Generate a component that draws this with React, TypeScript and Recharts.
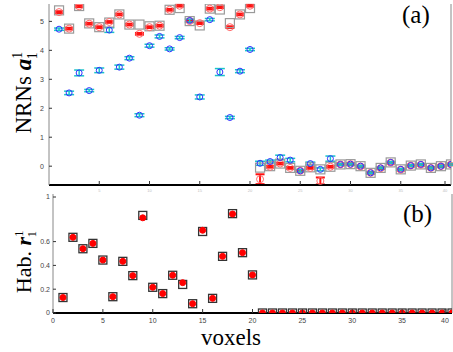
import React from "react";
import { ScatterChart, Scatter, XAxis, YAxis, ErrorBar, Label } from "recharts";

// voxel index 1..40
const voxels = [
  1, 2, 3, 4, 5, 6, 7, 8, 9, 10, 11, 12, 13, 14, 15, 16, 17, 18, 19, 20,
  21, 22, 23, 24, 25, 26, 27, 28, 29, 30, 31, 32, 33, 34, 35, 36, 37, 38, 39, 40,
];

// (a) NRNs a_1^1 : ground truth (grey squares)
const nrnTrue = [
  5.38, 4.75, 5.53, 4.93, 4.8, 4.96, 5.24, 4.89, 4.89, 4.83,
  4.85, 5.4, 5.46, 5.01, 4.86, 5.44, 5.41, 4.94, 5.24, 5.46,
  -0.05, 0.0, 0.09, -0.06, -0.16, -0.04, -0.11, -0.02, 0.06, 0.07,
  0.0, -0.23, -0.06, 0.13, -0.11, 0.02, 0.06, -0.06, 0.0, 0.06,
];
// red estimate + error
const nrnFit = [
  5.32, 4.75, 5.52, 4.92, 4.8, 4.98, 5.24, 4.89, 4.57, 4.8,
  4.85, 5.4, 5.54, 5.01, 4.94, 5.44, 5.49, 4.8, 5.24, 5.54,
  -0.45, -0.02, 0.09, -0.06, -0.16, -0.06, -0.51, -0.02, 0.06, 0.07,
  -0.01, -0.23, -0.07, 0.12, -0.12, 0.02, 0.05, -0.06, 0.0, 0.06,
];
const nrnFitErr = [
  0.03, 0.03, 0.03, 0.03, 0.03, 0.03, 0.03, 0.03, 0.03, 0.03,
  0.03, 0.03, 0.03, 0.03, 0.03, 0.03, 0.03, 0.03, 0.03, 0.03,
  0.17, 0.03, 0.03, 0.03, 0.03, 0.03, 0.12, 0.03, 0.03, 0.03,
  0.03, 0.03, 0.03, 0.03, 0.03, 0.03, 0.03, 0.03, 0.03, 0.03,
];
// blue estimate + error (cyan)
const nrnAlt = [
  4.73, 2.53, 3.22, 2.61, 3.31, 4.7, 3.42, 3.73, 1.76, 4.16,
  4.48, 4.05, 4.44, 5.03, 2.39, 5.06, 3.25, 1.68, 3.28, 4.03,
  0.1, 0.16, 0.3, 0.21, -0.16, 0.09, -0.11, 0.26, 0.06, 0.07,
  0.0, -0.23, -0.06, 0.13, -0.11, 0.02, 0.06, -0.06, 0.0, 0.06,
];
const nrnAltErr = [
  0.04, 0.06, 0.1, 0.04, 0.08, 0.08, 0.07, 0.05, 0.05, 0.05,
  0.05, 0.04, 0.04, 0.05, 0.07, 0.04, 0.12, 0.04, 0.05, 0.04,
  0.07, 0.05, 0.08, 0.06, 0.04, 0.05, 0.05, 0.09, 0.03, 0.03,
  0.03, 0.03, 0.03, 0.03, 0.03, 0.03, 0.03, 0.03, 0.03, 0.03,
];

// (b) Hab. r_1^1
const habTrue = [
  0.13, 0.636, 0.54, 0.585, 0.445, 0.137, 0.434, 0.314, 0.82, 0.216,
  0.163, 0.317, 0.24, 0.078, 0.685, 0.123, 0.476, 0.835, 0.507, 0.32,
  0, 0, 0, 0, 0, 0, 0, 0, 0, 0, 0, 0, 0, 0, 0, 0, 0, 0, 0, 0,
];
const habFit = [
  0.13, 0.636, 0.54, 0.585, 0.445, 0.137, 0.434, 0.314, 0.8, 0.216,
  0.163, 0.317, 0.255, 0.078, 0.695, 0.123, 0.476, 0.832, 0.507, 0.32,
  0, 0, 0, 0, 0, 0, 0, 0, 0, 0, 0, 0, 0, 0, 0, 0, 0, 0, 0, 0,
];

const xTicks = [0, 5, 10, 15, 20, 25, 30, 35, 40];
const xTicksTop = [5, 10, 15, 20, 25, 30, 35, 40];
const nrnTicks = [0, 1, 2, 3, 4, 5];
const habTicks = [0, 0.2, 0.4, 0.6, 0.8, 1];

const rows = (vals: number[], errs?: number[]) =>
  voxels.map((v, i) => ({ x: v, y: vals[i], err: errs ? errs[i] : 0 }));

const SERIF = "'Liberation Serif', 'DejaVu Serif', serif";
const SANS = "'Liberation Sans', 'DejaVu Sans', sans-serif";
const BORDER = "#888";

// tick renderers: labels outside, short tick marks pointing into the plot
const tickBottom = (m: number, fs: number, color: string) => (p: any) => (
  <g>
    <line x1={p.x} x2={p.x} y1={p.y - m} y2={p.y - m - 4} stroke="#333" />
    <text x={p.x} y={p.y} dy="0.71em" textAnchor="middle" fontSize={fs} fill={color} fontFamily={SANS}>
      {p.payload.value}
    </text>
  </g>
);
const tickTop = (m: number) => (p: any) => (
  <line x1={p.x} x2={p.x} y1={p.y + m} y2={p.y + m + 4} stroke="#333" />
);
const tickLeft = (m: number, fs: number, color: string) => (p: any) => (
  <g>
    <line x1={p.x + m} x2={p.x + m + 3} y1={p.y} y2={p.y} stroke="#333" />
    <text x={p.x} y={p.y} dy="0.35em" textAnchor="end" fontSize={fs} fill={color} fontFamily={SANS}>
      {p.payload.value}
    </text>
  </g>
);
const tickRight = (m: number) => (p: any) => (
  <line x1={p.x - m} x2={p.x - m - 4} y1={p.y} y2={p.y} stroke="#333" />
);

const square = (size: number, stroke: string, sw: number) => (p: any) => (
  <rect x={p.cx - size / 2} y={p.cy - size / 2} width={size} height={size} fill="none" stroke={stroke} strokeWidth={sw} />
);
const circle = (r: number, stroke: string, fill: string) => (p: any) => (
  <circle cx={p.cx} cy={p.cy} r={r} fill={fill} stroke={stroke} strokeWidth={1} />
);

function AxisTitle({ cx, cy, main, sym, size }: { cx: number; cy: number; main: string; sym: string; size: number }) {
  return (
    <text x={cx} y={cy} transform={`rotate(-90 ${cx} ${cy})`} textAnchor="middle" fontFamily={SERIF} fontSize={size} fill="#000">
      <tspan>{main}</tspan>
      <tspan fontWeight="bold" fontStyle="italic">{sym}</tspan>
      <tspan fontSize={size * 0.6} dy={-size * 0.38}>1</tspan>
      <tspan fontSize={size * 0.6} dx={-size * 0.3} dy={size * 0.62}>1</tspan>
    </text>
  );
}

export default function App() {
  return (
    <div style={{ position: "absolute", left: 0, top: 0, width: 453, height: 352, background: "#fff", overflow: "hidden" }}>
      {/* (a) */}
      <div style={{ position: "absolute", left: 0, top: 0 }}>
        <ScatterChart width={453} height={192} margin={{ top: 4, right: 0, bottom: 0, left: 0 }}>
          <XAxis
            type="number" dataKey="x" domain={[0, 40]} ticks={xTicksTop} allowDataOverflow
            height={7} tickSize={0} tickMargin={4} axisLine={{ stroke: "#000", strokeWidth: 2 }}
            tick={tickBottom(4, 4, "#bbb")}
          />
          <XAxis
            xAxisId="top" orientation="top" type="number" domain={[0, 40]} ticks={xTicksTop}
            height={0} tickSize={0} tickMargin={0} axisLine={{ stroke: BORDER }} tick={tickTop(0)}
          />
          <YAxis
            type="number" dataKey="y" domain={[-0.65, 5.6]} ticks={nrnTicks} allowDataOverflow
            width={49} tickSize={0} tickMargin={5} axisLine={{ stroke: BORDER }} tick={tickLeft(5, 7, "#444")}
          >
            <Label content={() => <AxisTitle cx={31} cy={93} main="NRNs " sym="a" size={23} />} />
          </YAxis>
          <YAxis
            yAxisId="right" orientation="right" type="number" domain={[-0.65, 5.6]} ticks={nrnTicks}
            width={2} tickSize={0} tickMargin={0} axisLine={{ stroke: BORDER }} tick={tickRight(0)}
          />
          <Scatter data={rows(nrnTrue)} shape={square(9, "#9a9a9a", 1.2)} isAnimationActive={false} />
          <Scatter data={rows(nrnFit, nrnFitErr)} shape={circle(3.5, "#ff6a6a", "none")} isAnimationActive={false}>
            <ErrorBar dataKey="err" direction="y" width={4.5} stroke="#ff1010" strokeWidth={2} isAnimationActive={false} />
          </Scatter>
          <Scatter data={rows(nrnAlt, nrnAltErr)} shape={circle(3, "#3030ff", "none")} isAnimationActive={false}>
            <ErrorBar dataKey="err" direction="y" width={5} stroke="#19c4c8" strokeWidth={1.5} isAnimationActive={false} />
          </Scatter>
        </ScatterChart>
      </div>

      {/* (b) */}
      <div style={{ position: "absolute", left: 0, top: 188 }}>
        <ScatterChart width={453} height={164} margin={{ top: 6, right: 0, bottom: 0, left: 0 }}>
          <XAxis
            type="number" dataKey="x" domain={[0, 40]} ticks={xTicks} allowDataOverflow
            height={39} tickSize={0} tickMargin={5} axisLine={{ stroke: "#000", strokeWidth: 2 }}
            tick={tickBottom(5, 7, "#444")}
          >
            <Label
              content={() => (
                <text x={231} y={157} textAnchor="middle" fontFamily={SERIF} fontSize={23} fill="#000">
                  voxels
                </text>
              )}
            />
          </XAxis>
          <XAxis
            xAxisId="top" orientation="top" type="number" domain={[0, 40]} ticks={xTicks}
            height={0} tickSize={0} tickMargin={0} axisLine={{ stroke: BORDER }} tick={tickTop(0)}
          />
          <YAxis
            type="number" dataKey="y" domain={[0, 1]} ticks={habTicks} allowDataOverflow
            width={53} tickSize={0} tickMargin={3} axisLine={{ stroke: BORDER }} tick={tickLeft(3, 7, "#444")}
          >
            <Label content={() => <AxisTitle cx={31} cy={74} main="Hab. " sym="r" size={22} />} />
          </YAxis>
          <YAxis
            yAxisId="right" orientation="right" type="number" domain={[0, 1]} ticks={habTicks}
            width={1} tickSize={0} tickMargin={0} axisLine={{ stroke: BORDER }} tick={tickRight(0)}
          />
          <Scatter data={rows(habTrue)} shape={square(8, "#333", 1.3)} isAnimationActive={false} />
          <Scatter data={rows(habFit)} shape={circle(3, "#ff0000", "#ff0000")} isAnimationActive={false} />
        </ScatterChart>
      </div>

      <svg width={453} height={352} style={{ position: "absolute", left: 0, top: 0, pointerEvents: "none" }}>
        <text x={402} y={23} fontFamily={SERIF} fontSize={25} fill="#000">(a)</text>
        <text x={403} y={222} fontFamily={SERIF} fontSize={25} fill="#000">(b)</text>
      </svg>
    </div>
  );
}
